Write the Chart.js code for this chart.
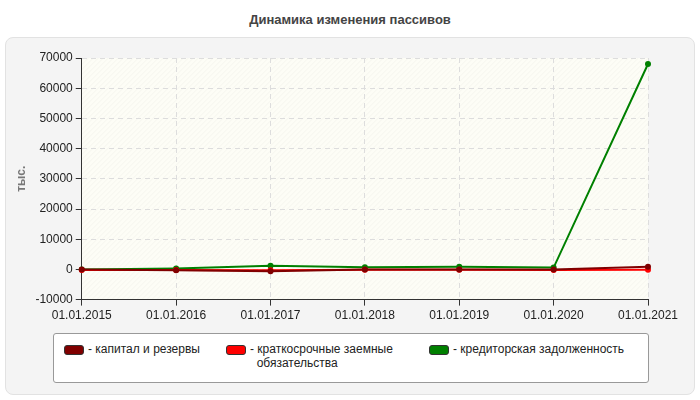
<!DOCTYPE html>
<html><head><meta charset="utf-8">
<script src="https://cdn.jsdelivr.net/npm/chart.js@4"></script>
<style>
body{margin:0;width:700px;height:400px;background:#fff;font-family:"Liberation Sans",Arial,sans-serif;position:relative;overflow:hidden}
#title{position:absolute;top:12px;left:0;width:700px;text-align:center;font-weight:bold;font-size:13px;color:#444}
#panel{position:absolute;left:5px;top:37px;width:688px;height:356px;background:#f4f4f4;border:1px solid #e2e2e2;border-radius:8px}
#wrap{position:absolute;left:0;top:40px;width:700px;height:286px}
#legend{position:absolute;left:53px;top:333px;width:594px;height:48px;background:#fff;border:1px solid #999;border-radius:3px;font-size:12px;color:#222}
.item{position:absolute;top:8px;display:flex;align-items:flex-start;white-space:nowrap}
.sw{width:18px;height:8px;border-radius:3px;border:1px solid #333;margin:3px 4px 0 0}
</style></head><body>
<div id="title">Динамика изменения пассивов</div>
<div id="panel"></div>
<div id="wrap"><canvas id="c"></canvas></div>
<div id="legend"></div>
<script>
const categories = ['01.01.2015','01.01.2016','01.01.2017','01.01.2018','01.01.2019','01.01.2020','01.01.2021'];
const capital = [0, -300, -600, 0, 0, 0, 900];
const shortLoans = [-200, -200, -300, -100, -100, -200, -100];
const payables = [0, 300, 1200, 700, 900, 600, 68000];
const seriesNames = ['капитал и резервы', 'краткосрочные заемные\nобязательства', 'кредиторская задолженность'];
const seriesColors = ['#800000', '#ff0000', '#008000'];

const legendX = [10, 172, 375];
const legend = document.getElementById('legend');
seriesNames.forEach((n, i) => {
  const d = document.createElement('div');
  d.className = 'item';
  d.style.left = legendX[i] + 'px';
  d.innerHTML = '<div class="sw" style="background:' + seriesColors[i] + '"></div><div>- ' + n.replace('\n', '<br>&nbsp;&nbsp;') + '</div>';
  legend.appendChild(d);
});

const bgPlugin = {
  id: 'bg',
  beforeDraw(chart) {
    const {ctx, chartArea: a} = chart;
    ctx.save();
    ctx.fillStyle = '#fdfdf6';
    ctx.fillRect(a.left, a.top, a.right - a.left, a.bottom - a.top);
    ctx.beginPath();
    ctx.rect(a.left, a.top, a.right - a.left, a.bottom - a.top);
    ctx.clip();
    ctx.strokeStyle = 'rgba(0,0,0,0.035)';
    ctx.lineWidth = 1;
    for (let x = a.left - 300; x < a.right; x += 5) {
      ctx.beginPath(); ctx.moveTo(x, a.bottom); ctx.lineTo(x + (a.bottom - a.top), a.top); ctx.stroke();
    }
    ctx.restore();
  }
};

const mk = (label, data, color) => ({
  label, data, borderColor: color, backgroundColor: color,
  borderWidth: 2, pointRadius: 3, pointBorderWidth: 0, tension: 0
});

new Chart('c', {
  type: 'line',
  data: {
    labels: categories,
    datasets: [mk(seriesNames[0], capital, seriesColors[0]), mk(seriesNames[1], shortLoans, seriesColors[1]), mk(seriesNames[2], payables, seriesColors[2])]
  },
  options: {
    responsive: true, maintainAspectRatio: false, animation: false,
    layout: {padding: {left: 10, right: 52, top: 18, bottom: 0}},
    plugins: {legend: {display: false}, tooltip: {enabled: false}},
    scales: {
      x: {
        offset: false,
        grid: {color: '#dddddd', tickLength: 6, tickColor: '#333'},
        border: {color: '#333', dash: [5, 4]},
        ticks: {color: '#222', font: {size: 12, family: 'Liberation Sans'}, maxRotation: 0, autoSkip: false}
      },
      y: {
        min: -10000, max: 70000,
        grid: {color: '#dddddd', tickLength: 6, tickColor: '#333'},
        border: {color: '#333', dash: [5, 4]},
        ticks: {stepSize: 10000, color: '#222', font: {size: 12, family: 'Liberation Sans'}, callback: v => String(v)},
        title: {display: true, text: 'тыс.', color: '#777', font: {size: 12, weight: 'bold', family: 'Liberation Sans'}}
      }
    }
  },
  plugins: [bgPlugin]
});
</script>
</body></html>
